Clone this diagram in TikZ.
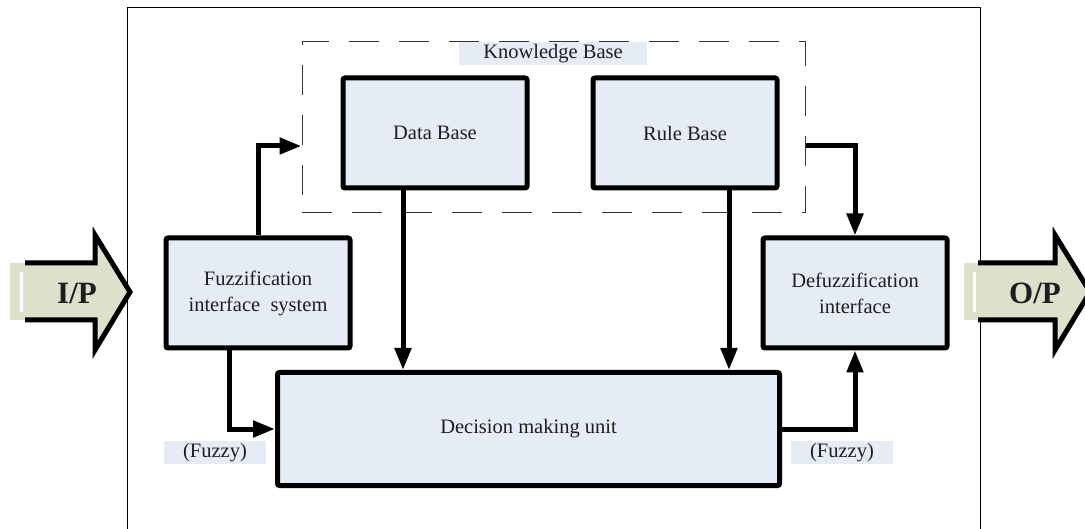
\documentclass[tikz,border=0pt]{standalone}
\usepackage{fontspec}
\setmainfont{Liberation Serif}
\usetikzlibrary{arrows.meta}
\definecolor{boxfill}{HTML}{E6ECF6}
\definecolor{arrfill}{HTML}{DEE0CC}
\definecolor{txt}{HTML}{1E1E1E}
\tikzset{
  blk/.style={draw=black, line width=5pt, fill=boxfill, rounded corners=2pt,
    minimum width=184pt, minimum height=110pt, inner sep=0pt, align=center,
    text=txt, font=\fontsize{20.5}{24}\selectfont},
  lbl/.style={fill=boxfill, inner sep=0pt, text=txt, font=\fontsize{20.5}{24}\selectfont},
  conn/.style={line width=5pt, -{Triangle[length=22pt,width=16pt]}},
  plain/.style={line width=5pt},
  bigarr/.style={line width=5pt, line join=miter},
  iotext/.style={font=\fontsize{31}{34}\selectfont\bfseries, text=txt, inner sep=0pt}
}
\begin{document}
\begin{tikzpicture}[x=1pt,y=-1pt]
\useasboundingbox (0,0) rectangle (1085,529);
% outer frame
\draw[line width=1pt] (127,540) -- (127,8) -- (980,8) -- (980,540);
% knowledge base dashed region
\node[draw=black!80, line width=1pt, dash pattern=on 30pt off 20pt,
  minimum width=503pt, minimum height=171pt, inner sep=0pt] (kb) at (553.5,127.5) {};
\node[lbl, minimum width=188pt, minimum height=23pt] (kbl) at (553,53.5) {Knowledge Base};
% blocks
\node[blk] (db) at (435,133) {Data Base};
\node[blk] (rb) at (685,133) {Rule Base};
\node[blk] (fz) at (258,293) {Fuzzification\\[2pt]interface\ \ system};
\node[blk] (dfz) at (855,293) {Defuzzification\\[2pt]interface};
\node[blk, minimum width=502pt, minimum height=113pt] (dec) at (528.5,429) {Decision making unit};
% fuzzy labels
\node[lbl, minimum width=102pt, minimum height=23pt] (fl) at (215,452.5) {(Fuzzy)};
\node[lbl, minimum width=102pt, minimum height=23pt] (fr) at (842,452.5) {(Fuzzy)};
% helper coordinates
\coordinate (ykb) at (0,146);
\coordinate (xdb) at (403,0);
\coordinate (xrb) at (729,0);
\coordinate (xfz) at (229,0);
% connectors
\draw[conn] (fz.north) |- (kb.west |- ykb);
\draw[conn] (kb.east |- ykb) -| (dfz.north);
\draw[conn] (db.south -| xdb) -- (dec.north -| xdb);
\draw[conn] (rb.south -| xrb) -- (dec.north -| xrb);
\draw[conn] (fz.south -| xfz) |- (dec.west);
\draw[conn] (dec.east) -| (dfz.south);
% I/P arrow
\fill[arrfill] (10,263) -- (95,263) -- (95,235) -- (130,292) -- (95,350) -- (95,320) -- (10,320) -- cycle;
\fill[white] (20,272) rectangle (23,312);
\draw[bigarr] (25,263) -- (95,263) -- (95,235) -- (130,292) -- (95,350) -- (95,320) -- (25,320);
\node[iotext] (ip) at (77,293) {I/P};
% O/P arrow
\fill[arrfill] (964,263) -- (1055,263) -- (1055,235) -- (1090,292) -- (1055,350) -- (1055,320) -- (964,320) -- cycle;
\fill[white] (973,272) rectangle (976,312);
\draw[bigarr] (978,263) -- (1055,263) -- (1055,235) -- (1090,292) -- (1055,350) -- (1055,320) -- (978,320);
\node[iotext] (op) at (1035,293) {O/P};
\end{tikzpicture}
\end{document}
